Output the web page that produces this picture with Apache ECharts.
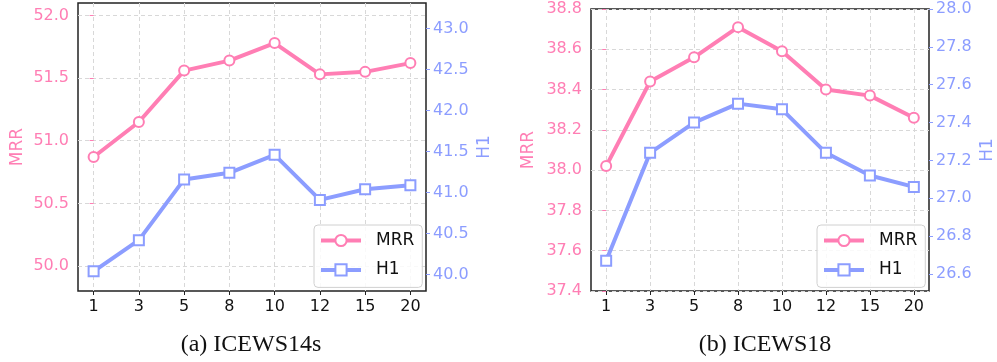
<!DOCTYPE html>
<html>
<head>
<meta charset="utf-8">
<script src="https://cdn.jsdelivr.net/npm/echarts@6/dist/echarts.min.js"></script>
<style>
  html, body { margin: 0; padding: 0; background: #fff; }
  #main { width: 997px; height: 362px; }
</style>
</head>
<body>
<div id="main"></div>
<script>
var categories = ['1', '3', '5', '8', '10', '12', '15', '20'];

// (a) ICEWS14s
var mrr14 = [50.87, 51.15, 51.56, 51.64, 51.78, 51.53, 51.55, 51.62];
var h114 = [40.04, 40.42, 41.16, 41.24, 41.46, 40.91, 41.04, 41.09];
var mrr14Ticks = [50.0, 50.5, 51.0, 51.5, 52.0];
var h114Ticks = [40.0, 40.5, 41.0, 41.5, 42.0, 42.5, 43.0];

// (b) ICEWS18
var mrr18 = [38.02, 38.44, 38.56, 38.71, 38.59, 38.40, 38.37, 38.26];
var h118 = [26.67, 27.24, 27.40, 27.50, 27.47, 27.24, 27.12, 27.06];
var mrr18Ticks = [37.4, 37.6, 37.8, 38.0, 38.2, 38.4, 38.6, 38.8];
var h118Ticks = [26.6, 26.8, 27.0, 27.2, 27.4, 27.6, 27.8, 28.0];

var pink = '#ff7eb4';
var blue = '#8c9dff';
var font = 'DejaVu Sans';

function pairs(vals) {
    return vals.map(function (v, i) { return [i, v]; });
}
var idx = categories.map(function (c, i) { return i; });

function xAxis(gridIndex) {
    return {
        type: 'value', gridIndex: gridIndex,
        min: -0.345, max: 7.345,
        axisLine: { show: false },
        axisTick: { show: true, length: 4, customValues: idx, lineStyle: { color: '#222', width: 1 } },
        axisLabel: {
            customValues: idx, margin: 8, color: '#111', fontFamily: font, fontSize: 16,
            formatter: function (v) { return categories[Math.round(v)]; }
        },
        splitLine: { show: true, lineStyle: { color: '#d8d8d8', type: [4, 3], width: 1 } }
    };
}

function yAxis(gridIndex, pos, min, max, ticks, name, color, grid, nameGap, margin) {
    return {
        type: 'value', gridIndex: gridIndex, position: pos,
        min: min, max: max,
        name: name, nameLocation: 'middle', nameRotate: 90, nameGap: nameGap,
        nameTextStyle: { color: color, fontFamily: font, fontSize: 17 },
        axisLine: { show: false },
        axisTick: { show: true, length: 4, customValues: ticks, lineStyle: { color: color, width: 1 } },
        axisLabel: {
            customValues: ticks, margin: margin, color: color, fontFamily: font, fontSize: 16,
            formatter: function (v) { return v.toFixed(1); }
        },
        splitLine: { show: grid, lineStyle: { color: '#d8d8d8', type: [4, 3], width: 1 } }
    };
}

function lineSeries(name, data, xi, yi, color, symbol, size) {
    return {
        name: name, type: 'line', xAxisIndex: xi, yAxisIndex: yi,
        data: pairs(data),
        symbol: symbol, symbolSize: size, showSymbol: true,
        lineStyle: { color: color, width: 4 },
        itemStyle: { color: '#fff', borderColor: color, borderWidth: 2 },
        emphasis: { disabled: true },
        animation: false
    };
}

function legend(left) {
    return {
        orient: 'vertical', left: left, top: 225,
        data: ['MRR', 'H1'],
        itemWidth: 40, itemHeight: 14, itemGap: 12.4,
        padding: [7, 8, 9, 5],
        borderColor: '#d0d0d0', borderWidth: 1, borderRadius: 4,
        backgroundColor: 'rgba(255,255,255,0.85)',
        lineStyle: { width: 4 },
        textStyle: { color: '#111', fontFamily: font, fontSize: 17, lineHeight: 14, padding: [0, 0, 0, 10] }
    };
}

var myChart = echarts.init(document.getElementById('main'), null, { renderer: 'canvas' });
var option = {
    animation: false,
    grid: [
        { left: 78, top: 3, width: 348, height: 288, show: true, borderColor: '#222', borderWidth: 1.5, backgroundColor: 'transparent' },
        { left: 591, top: 9, width: 338, height: 282, show: true, borderColor: '#222', borderWidth: 1.5, backgroundColor: 'transparent' }
    ],
    xAxis: [xAxis(0), xAxis(1)],
    yAxis: [
        yAxis(0, 'left', 49.8, 52.1, mrr14Ticks, 'MRR', pink, true, 52, 9),
        yAxis(0, 'right', 39.8, 43.31, h114Ticks, 'H1', blue, false, 50, 7),
        yAxis(1, 'left', 37.4, 38.8, mrr18Ticks, 'MRR', pink, true, 54, 9),
        yAxis(1, 'right', 26.51, 28.0, h118Ticks, 'H1', blue, false, 50, 7)
    ],
    legend: [legend(314), legend(817)],
    series: [
        lineSeries('MRR', mrr14, 0, 0, pink, 'circle', 10),
        lineSeries('H1', h114, 0, 1, blue, 'rect', 10),
        lineSeries('MRR', mrr18, 1, 2, pink, 'circle', 10),
        lineSeries('H1', h118, 1, 3, blue, 'rect', 10)
    ],
    graphic: [
        { type: 'text', x: 251, y: 345, style: { text: '(a) ICEWS14s', fill: '#111', font: '24px "Liberation Serif"', align: 'center', verticalAlign: 'middle' } },
        { type: 'text', x: 765, y: 345, style: { text: '(b) ICEWS18', fill: '#111', font: '24px "Liberation Serif"', align: 'center', verticalAlign: 'middle' } }
    ]
};
myChart.setOption(option);
</script>
</body>
</html>
